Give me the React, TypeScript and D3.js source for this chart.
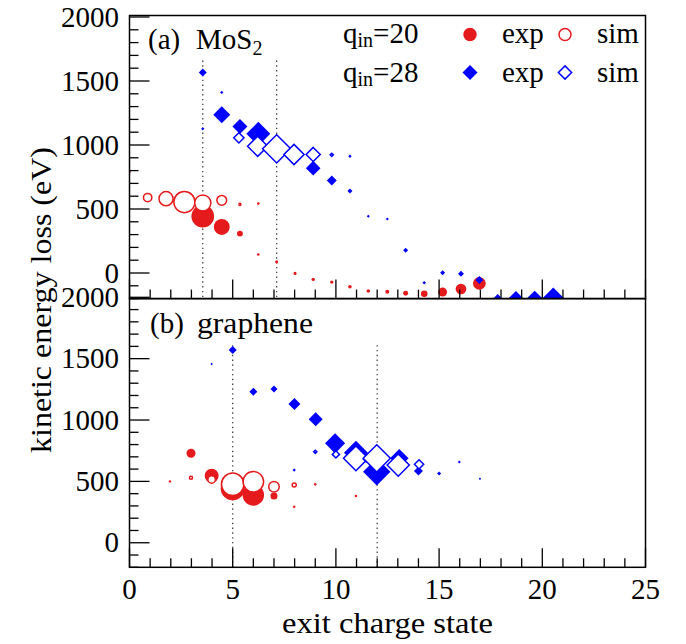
import React from "react";
import * as d3 from "d3";

// ---------- data ----------
// (a) MoS2 panel
const mosRedExpX = [0, 3.55, 4.47, 5.35, 6.24, 7.13, 8.02, 8.9, 9.8, 10.68, 11.57, 12.49, 13.38, 14.28, 15.17, 16.06, 16.95];
const mosRedExpY = [790, 443, 360, 308, 145, 87, -3, -50, -71, -107, -141, -146, -159, -162, -149, -125, -81];
const mosRedExpW = [1, 89, 44, 6, 1.2, 1.6, 1.6, 2, 2, 2.25, 2.25, 2.8, 4.3, 7.6, 14, 20, 28];

const mosRedSimX = [0.88, 1.77, 2.66, 3.55, 4.47, 5.35, 6.24];
const mosRedSimY = [589, 581, 554, 547, 568, 536, 542];
const mosRedSimW = [17, 42, 89, 54, 22, 2.2, 1];

const mosBlueExpX = [3.55, 4.47, 5.35, 6.24, 8.9, 9.8, 10.68, 11.57, 12.49, 13.38, 14.28, 15.17, 16.06, 16.95, 17.84, 18.72, 19.63, 20.53];
const mosBlueExpY = [1566, 1237, 1144, 1087, 819, 723, 640, 443, 422, 178, -76, 2, -6, -55, -195, -200, -200, -200];
const mosBlueExpW = [11, 50, 39, 100, 37, 17, 4.3, 1.6, 1.6, 4.3, 2.2, 4.3, 6.2, 11, 11, 39, 44, 84];

const mosBlueSimX = [3.55, 4.47, 5.3, 6.21, 7.13, 7.97, 8.9, 9.8, 10.68];
const mosBlueSimY = [1126, 1411, 1056, 990, 970, 926, 926, 923, 912];
const mosBlueSimW = [1, 1.6, 25, 84, 156, 84, 44, 4.3, 1.6];

const mosGuides = [3.55, 7.13];

// (b) graphene panel
const grRedExpX = [1.96, 2.98, 3.98, 5, 6, 7, 7.98, 10.97];
const grRedExpY = [500, 729, 546, 443, 389, 381, 293, 381];
const grRedExpW = [1, 14, 34, 100, 80, 8.5, 1, 1];

const grRedSimX = [2.98, 3.98, 5, 6, 7, 7.98, 9];
const grRedSimY = [530, 516, 476, 497, 456, 470, 476];
const grRedSimW = [3.7, 14, 100, 84, 25, 5.4, 1.2];

const grBlueExpX = [3.98, 5, 6, 7, 7.99, 9.02, 9.96, 10.97, 11.98, 13.07, 14.0, 15.0, 15.98, 16.98];
const grBlueExpY = [1456, 1570, 1231, 1253, 1130, 1006, 810, 733, 579, 688, 584, 565, 658, 522];
const grBlueExpW = [1, 11, 11, 8.5, 25, 34, 70, 100, 130, 60, 14, 2.8, 1.6, 1];

const grBlueSimX = [7.98, 9, 10, 10.97, 11.46, 11.98, 13.02, 14.03];
const grBlueSimY = [592, 741, 720, 688, 680, 688, 633, 639];
const grBlueSimW = [1, 4.3, 14, 123, 8.5, 146, 100, 21];

const grGuides = [5, 12];

const xTicks = [0, 5, 10, 15, 20, 25];
const yTicks = [0, 500, 1000, 1500, 2000];

// ---------- layout ----------
const W = 686, H = 644;
const X0 = 129.5, X1 = 645.5;
const TOP0 = 15.5, MID = 298.6, BOT = 567.3;
const RED = "#e41a1c";
const BLUE = "#0000ff";
const FONT = "Liberation Serif";
const FS = 29;
const TS: React.CSSProperties = { fontFamily: FONT, fontSize: FS };

const x = d3.scaleLinear().domain([0, 25]).range([X0, X1]);
const yTop = d3.scaleLinear().domain([-200, 2000]).range([MID, 17]);
const yBot = d3.scaleLinear().domain([-200, 2000]).range([BOT, 297.3]);
const size = d3.scaleSqrt().domain([0, 100]).range([0, 12]);

function diamond(cx: number, cy: number, h: number) {
  const p = d3.path();
  p.moveTo(cx, cy - h);
  p.lineTo(cx + h, cy);
  p.lineTo(cx, cy + h);
  p.lineTo(cx - h, cy);
  p.closePath();
  return p.toString();
}

type Series = { xs: number[]; ys: number[]; ws: number[]; color: string; shape: "circle" | "diamond"; open: boolean };

function Marks({ s, y }: { s: Series; y: d3.ScaleLinear<number, number> }) {
  return (
    <g>
      {s.xs.map((xv, i) => {
        const cx = x(xv), cy = y(s.ys[i]), r = size(s.ws[i]);
        const fill = s.open ? "white" : s.color;
        const stroke = s.open ? s.color : "none";
        if (s.shape === "circle")
          return <circle key={i} cx={cx} cy={cy} r={s.open ? Math.max(r - 0.75, 0.6) : r} fill={fill} stroke={stroke} strokeWidth={1.5} />;
        return <path key={i} d={diamond(cx, cy, s.open ? Math.max(r - 0.9, 0.6) : r)} fill={fill} stroke={stroke} strokeWidth={1.5} strokeLinejoin="miter" />;
      })}
    </g>
  );
}

function Panel({ id, y, top, bottom, series, guides, guideTop }: any) {
  const minor = d3.range(-200, 2001, 100);
  const xMinor = d3.range(0, 26, 1);
  return (
    <g>
      <defs>
        <clipPath id={id}>
          <rect x={X0} y={top} width={X1 - X0} height={bottom - top} />
        </clipPath>
      </defs>
      <g clipPath={`url(#${id})`}>
        {guides.map((g: number, i: number) => (
          <line key={i} x1={x(g)} x2={x(g)} y1={y(guideTop)} y2={bottom} stroke="#333" strokeWidth={1.2} strokeDasharray="1.4 3.4" />
        ))}
        {series.map((s: Series, i: number) => <Marks key={i} s={s} y={y} />)}
      </g>
      {minor.map((v: number) => (
        <line key={"y" + v} x1={X0} x2={X0 + (v % 500 === 0 ? 20 : 9)} y1={y(v)} y2={y(v)} stroke="black" strokeWidth={1.3} />
      ))}
      {xMinor.map((v: number) => (
        <line key={"x" + v} x1={x(v)} x2={x(v)} y1={bottom} y2={bottom - (v % 5 === 0 ? 19 : 9)} stroke="black" strokeWidth={1.3} />
      ))}
      {yTicks.map((v) => (
        <text key={"l" + v} x={119} y={y(v) + 9.6} textAnchor="end" style={TS}>{v}</text>
      ))}
      <rect x={X0} y={top} width={X1 - X0} height={bottom - top} fill="none" stroke="black" strokeWidth={1.5} />
    </g>
  );
}

export default function App() {
  const topSeries: Series[] = [
    { xs: mosRedExpX, ys: mosRedExpY, ws: mosRedExpW, color: RED, shape: "circle", open: false },
    { xs: mosRedSimX, ys: mosRedSimY, ws: mosRedSimW, color: RED, shape: "circle", open: true },
    { xs: mosBlueExpX, ys: mosBlueExpY, ws: mosBlueExpW, color: BLUE, shape: "diamond", open: false },
    { xs: mosBlueSimX, ys: mosBlueSimY, ws: mosBlueSimW, color: BLUE, shape: "diamond", open: true },
  ];
  const botSeries: Series[] = [
    { xs: grRedExpX, ys: grRedExpY, ws: grRedExpW, color: RED, shape: "circle", open: false },
    { xs: grRedSimX, ys: grRedSimY, ws: grRedSimW, color: RED, shape: "circle", open: true },
    { xs: grBlueExpX, ys: grBlueExpY, ws: grBlueExpW, color: BLUE, shape: "diamond", open: false },
    { xs: grBlueSimX, ys: grBlueSimY, ws: grBlueSimW, color: BLUE, shape: "diamond", open: true },
  ];
  return (
    <svg width={W} height={H} style={{ position: "absolute", left: 0, top: 0, background: "white" }}>
      <rect width={W} height={H} fill="white" />
      <Panel id="clipTop" y={yTop} top={TOP0} bottom={MID} series={topSeries} guides={mosGuides} guideTop={1660} />
      <Panel id="clipBot" y={yBot} top={MID} bottom={BOT} series={botSeries} guides={grGuides} guideTop={1610} />

      {xTicks.map((v) => (
        <text key={v} x={x(v)} y={599.3} textAnchor="middle" style={TS}>{v}</text>
      ))}
      <text x={(X0 + X1) / 2} y={633.3} textAnchor="middle" style={TS} textLength={211} lengthAdjust="spacingAndGlyphs">exit charge state</text>
      <text transform="translate(51,300) rotate(-90)" textAnchor="middle" style={TS} textLength={306} lengthAdjust="spacingAndGlyphs">kinetic energy loss (eV)</text>

      <text x={148} y={49.3} style={TS}>(a)</text>
      <text x={196} y={49.3} style={TS}>MoS<tspan style={{ fontSize: 20 }} dy={6}>2</tspan></text>
      <text x={150} y={333} style={TS}>(b)</text>
      <text x={197} y={333} style={TS} textLength={116} lengthAdjust="spacingAndGlyphs">graphene</text>

      <text x={343} y={43.3} style={TS}>q<tspan style={{ fontSize: 20 }} dy={4}>in</tspan><tspan dy={-4}>=20</tspan></text>
      <text x={343} y={81.7} style={TS}>q<tspan style={{ fontSize: 20 }} dy={4}>in</tspan><tspan dy={-4}>=28</tspan></text>
      <circle cx={470} cy={34.5} r={6.7} fill={RED} />
      <circle cx={565} cy={34.5} r={6} fill="white" stroke={RED} strokeWidth={1.5} />
      <path d={diamond(470, 72.5, 7.5)} fill={BLUE} />
      <path d={diamond(565, 72.5, 6.6)} fill="white" stroke={BLUE} strokeWidth={1.5} />
      <text x={502} y={43.3} style={TS}>exp</text>
      <text x={502} y={81.7} style={TS}>exp</text>
      <text x={597} y={43.3} style={TS}>sim</text>
      <text x={597} y={81.7} style={TS}>sim</text>
    </svg>
  );
}
